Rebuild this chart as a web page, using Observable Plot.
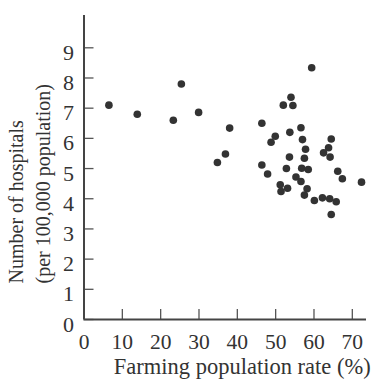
<!DOCTYPE html>
<html>
<head>
<meta charset="utf-8">
<script src="https://cdn.jsdelivr.net/npm/d3@7"></script>
<script src="https://cdn.jsdelivr.net/npm/@observablehq/plot@0.6"></script>
<style>
  html, body { margin: 0; padding: 0; background: #fff; }
  #chart svg { display: block; }
</style>
</head>
<body>
<div id="chart"></div>
<script>
const farmingRate = [6.5, 13.9, 23.3, 25.4, 29.9, 34.8, 36.9, 38.0, 46.4, 46.4, 47.9, 48.8, 49.9, 52.0, 54.0, 54.5, 53.7, 56.6, 57.0, 57.8, 57.5, 53.6, 52.8, 56.8, 58.5, 55.3, 56.6, 51.2, 51.4, 53.1, 58.2, 57.5, 60.1, 62.2, 64.1, 65.8, 64.5, 62.5, 63.8, 64.5, 64.2, 66.2, 67.4, 72.4, 59.4];
const hospitals = [7.1, 6.8, 6.6, 7.8, 6.86, 5.2, 5.48, 6.34, 6.5, 5.12, 4.82, 5.87, 6.07, 7.1, 7.36, 7.09, 6.2, 6.35, 5.96, 5.64, 5.34, 5.38, 5.0, 5.01, 4.97, 4.72, 4.57, 4.46, 4.24, 4.35, 4.33, 4.12, 3.94, 4.03, 4.0, 3.9, 3.48, 5.52, 5.69, 5.98, 5.38, 4.91, 4.66, 4.55, 8.34];
const xTicks = [0, 10, 20, 30, 40, 50, 60, 70];
const yTicks = [0, 1, 2, 3, 4, 5, 6, 7, 8, 9];
const xTitle = "Farming population rate (%)";
const yTitle = "Number of hospitals\n(per 100,000 population)";

const data = farmingRate.map((x, i) => ({x, y: hospitals[i]}));

const chart = Plot.plot({
  width: 377,
  height: 383,
  marginLeft: 83.5,
  marginRight: 11,
  marginTop: 15,
  marginBottom: 64,
  style: {fontFamily: "'Liberation Serif', serif", color: "#333", background: "#fff"},
  x: {domain: [0, 73.7]},
  y: {domain: [0, 10.07]},
  marks: [
    // inward tick marks
    Plot.axisX(xTicks, {tickSize: 10, dy: -10, tickFormat: () => "", label: null, stroke: "#555", strokeWidth: 1.3}),
    Plot.axisY(yTicks, {tickSize: 10, dx: 10, tickFormat: () => "", label: null, stroke: "#555", strokeWidth: 1.3}),
    // tick labels
    Plot.axisX(xTicks, {tickSize: 0, tickPadding: 14, fontSize: 21.5, label: null}),
    Plot.axisY(yTicks, {tickSize: 0, tickPadding: 10, fontSize: 22, dy: 5, label: null}),
    Plot.ruleX([0], {stroke: "#444", strokeWidth: 2}),
    Plot.ruleY([0], {stroke: "#444", strokeWidth: 2}),
    Plot.dot(data, {x: "x", y: "y", r: 3.8, fill: "#333", stroke: "none"}),
    Plot.text([xTitle], {frameAnchor: "bottom", dx: 17, dy: 54, fontSize: 22.5, fill: "#333"}),
    Plot.text([yTitle], {frameAnchor: "left", rotate: -90, textAnchor: "start", lineAnchor: "middle", lineHeight: 1.35, dx: -56, dy: 116, fontSize: 20, fill: "#333"})
  ]
});
document.getElementById("chart").appendChild(chart);
</script>
</body>
</html>
